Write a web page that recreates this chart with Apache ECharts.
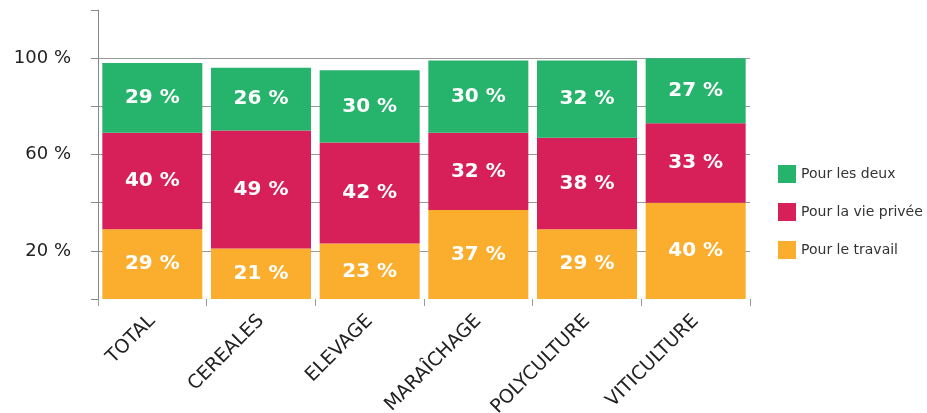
<!DOCTYPE html>
<html>
<head>
<meta charset="utf-8">
<script src="https://cdn.jsdelivr.net/npm/echarts@6/dist/echarts.min.js"></script>
<style>
  html, body { margin: 0; padding: 0; background: #fff; }
  #chart { width: 927px; height: 413px; }
</style>
</head>
<body>
<div id="chart"></div>
<script>
// catégories et valeurs (%)
var categories = ['TOTAL', 'CEREALES', 'ELEVAGE', 'MARAÎCHAGE', 'POLYCULTURE', 'VITICULTURE'];
var travail = [29, 21, 23, 37, 29, 40];
var viePrivee = [40, 49, 42, 32, 38, 33];
var lesDeux = [29, 26, 30, 30, 32, 27];
var shownTicks = [20, 60, 100];

var FONT = '"DejaVu Sans", sans-serif';
var myChart = echarts.init(document.getElementById('chart'));

var barLabel = {
	show: true,
	position: 'inside',
	color: '#fff',
	fontWeight: 'bold',
	fontSize: 20,
	fontFamily: FONT,
	formatter: '{c} %'
};

var option = {
	textStyle: { fontFamily: FONT },
	grid: { left: 98, right: 177, top: 10, bottom: 114, containLabel: false, outerBoundsMode: 'none' },
	legend: {
		orient: 'vertical',
		left: 778,
		top: 165,
		padding: 0,
		itemWidth: 18,
		itemHeight: 18,
		itemGap: 20,
		icon: 'rect',
		textStyle: { fontSize: 14, color: '#333', fontFamily: FONT },
		data: ['Pour les deux', 'Pour la vie privée', 'Pour le travail']
	},
	xAxis: {
		type: 'category',
		data: categories,
		axisLine: { show: false },
		axisTick: { show: true, length: 7, lineStyle: { color: '#999' } },
		axisLabel: {
			rotate: 45,
			margin: 19,
			fontSize: 19,
			color: '#222',
			fontFamily: FONT
		}
	},
	yAxis: {
		type: 'value',
		min: 0,
		max: 120,
		interval: 20,
		axisLine: { show: true, lineStyle: { color: '#888' } },
		axisTick: { show: true, length: 7, lineStyle: { color: '#888' } },
		axisLabel: {
			margin: 27,
			fontSize: 18,
			color: '#222',
			fontFamily: FONT,
			formatter: function (v) {
				return shownTicks.indexOf(v) >= 0 ? v + ' %' : '';
			}
		},
		splitLine: {
			show: true,
			lineStyle: {
				color: ['transparent', '#999', '#999', '#999', '#999', '#999', 'transparent']
			}
		}
	},
	series: [
		{
			name: 'Pour le travail',
			type: 'bar',
			stack: 'total',
			barWidth: 100,
			itemStyle: { color: '#FBAE2D' },
			label: barLabel,
			data: travail
		},
		{
			name: 'Pour la vie privée',
			type: 'bar',
			stack: 'total',
			barWidth: 100,
			itemStyle: { color: '#D71F5A' },
			label: barLabel,
			data: viePrivee
		},
		{
			name: 'Pour les deux',
			type: 'bar',
			stack: 'total',
			barWidth: 100,
			itemStyle: { color: '#26B36B' },
			label: barLabel,
			data: lesDeux
		}
	]
};

myChart.setOption(option);
</script>
</body>
</html>
